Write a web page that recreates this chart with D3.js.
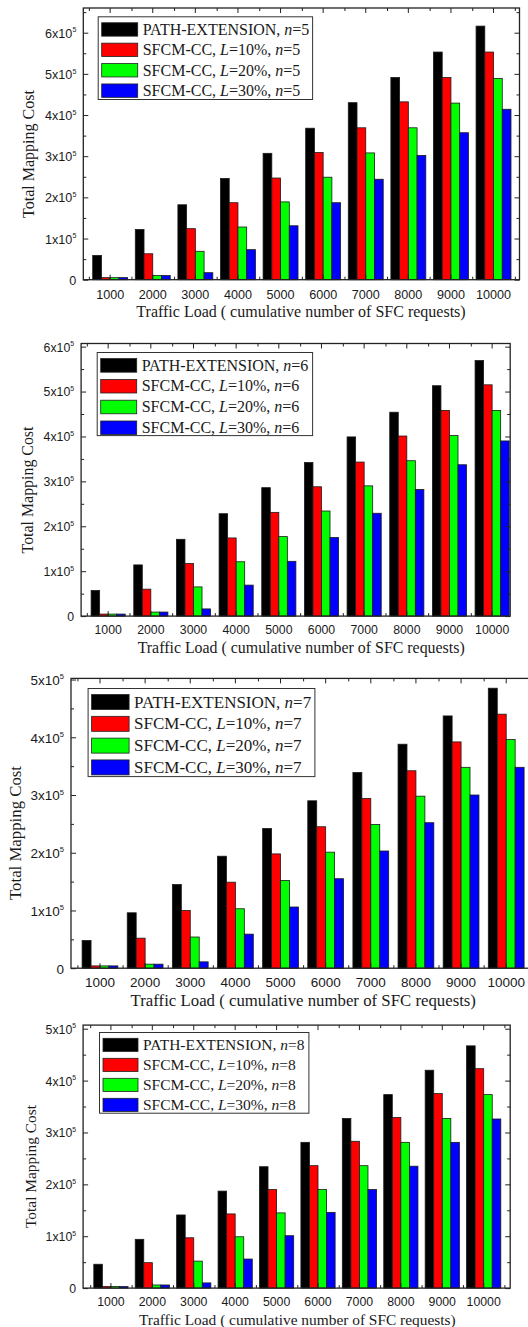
<!DOCTYPE html>
<html>
<head>
<meta charset="utf-8">
<script src="https://cdn.jsdelivr.net/npm/d3@7"></script>
<style>
  body { margin: 0; background: #fff; }
  svg { display: block; background: #fff; }
</style>
</head>
<body>
<svg id="chart" width="528" height="1327"></svg>
<script>
// Traffic load categories (x axis)
var categories = [1000, 2000, 3000, 4000, 5000, 6000, 7000, 8000, 9000, 10000];
var seriesColors = ["#000000", "#ff0000", "#00ff00", "#0000ff"];
var lossLevels = ["10%", "20%", "30%"];
var nodeCounts = [5, 6, 7, 8];

// n = 5
var pathExtN5 = [59000, 122000, 182000, 246000, 307000, 368000, 430000, 491000, 553000, 616000];
var sfcm10N5  = [5000, 63000, 124000, 187000, 247000, 309000, 369000, 432000, 491000, 553000];
var sfcm20N5  = [5000, 10000, 69000, 128000, 189000, 249000, 308000, 369000, 429000, 489000];
var sfcm30N5  = [5000, 10000, 17000, 73000, 131000, 187000, 244000, 302000, 357000, 414000];

// n = 6
var pathExtN6 = [57000, 114000, 171000, 228000, 286000, 342000, 399000, 454000, 513000, 569000];
var sfcm10N6  = [4500, 60000, 117000, 174000, 231000, 288000, 343000, 401000, 458000, 515000];
var sfcm20N6  = [4500, 9000, 65000, 121000, 177000, 234000, 290000, 346000, 402000, 458000];
var sfcm30N6  = [4500, 9000, 16000, 69000, 122000, 175000, 229000, 282000, 337000, 390000];

// n = 7
var pathExtN7 = [48000, 96000, 145000, 194000, 242000, 290000, 339000, 388000, 437000, 485000];
var sfcm10N7  = [4000, 52000, 100000, 149000, 198000, 245000, 294000, 342000, 392000, 440000];
var sfcm20N7  = [4000, 7000, 54000, 103000, 152000, 201000, 249000, 298000, 348000, 396000];
var sfcm30N7  = [4000, 7000, 11000, 59000, 106000, 155000, 203000, 252000, 300000, 348000];

// n = 8
var pathExtN8 = [46000, 94000, 141000, 187000, 234000, 281000, 327000, 373000, 420000, 467000];
var sfcm10N8  = [3000, 49000, 97000, 143000, 190000, 236000, 283000, 329000, 375000, 423000];
var sfcm20N8  = [3000, 6000, 52000, 99000, 145000, 190000, 236000, 281000, 327000, 373000];
var sfcm30N8  = [3000, 6000, 10000, 56000, 101000, 146000, 190000, 235000, 281000, 326000];

var yMajorN56 = [0, 100000, 200000, 300000, 400000, 500000, 600000];
var yMajorN78 = [0, 100000, 200000, 300000, 400000, 500000];

var panels = [
  { n: nodeCounts[0], series: [pathExtN5, sfcm10N5, sfcm20N5, sfcm30N5], yMax: 660000, yMajor: yMajorN56,
    fx0: 83.3, fx1: 519.5, fy0: 8, fy1: 279.7, g0: 92.7, g1: 511, pad: 0.18,
    tickFs: 12.6, tickY: 294.8, titleFs: 16, titleX: 301, titleY: 311.6, yTitleX: 28.6, yTitleY: 154,
    leg: { x: 98.2, y: 16.8, w: 214.4, h: 82.7, row: 20.4, sw: 36, sh: 13.4, fs: 16 } },
  { n: nodeCounts[1], series: [pathExtN6, sfcm10N6, sfcm20N6, sfcm30N6], yMax: 607000, yMajor: yMajorN56,
    fx0: 81.1, fx1: 510.2, fy0: 343.5, fy1: 616.1, g0: 91.1, g1: 509.2, pad: 0.2,
    tickFs: 12.3, tickY: 629.9, titleFs: 15.9, titleX: 301.2, titleY: 647.6, yTitleX: 27.5, yTitleY: 490,
    leg: { x: 97.2, y: 352.5, w: 215.4, h: 83.1, row: 20.8, sw: 36, sh: 13.6, fs: 16 } },
  { n: nodeCounts[2], series: [pathExtN7, sfcm10N7, sfcm20N7, sfcm30N7], yMax: 502000, yMajor: yMajorN78,
    fx0: 71, fx1: 535, fy0: 678.4, fy1: 968.2, g0: 82.1, g1: 524.1, pad: 0.207,
    tickFs: 13.5, tickY: 982.3, titleFs: 16.8, titleX: 303.3, titleY: 1000, yTitleX: 15.5, yTitleY: 833,
    leg: { x: 88.1, y: 688.5, w: 226.8, h: 88.1, row: 21.8, sw: 37.5, sh: 15, fs: 17 } },
  { n: nodeCounts[3], series: [pathExtN8, sfcm10N8, sfcm20N8, sfcm30N8], yMax: 507000, yMajor: yMajorN78,
    fx0: 83.1, fx1: 510.2, fy0: 1025.1, fy1: 1288.1, g0: 93.8, g1: 500.8, pad: 0.174,
    tickFs: 12.3, tickY: 1301.5, titleFs: 15.4, titleX: 297.3, titleY: 1320, yTitleX: 30.8, yTitleY: 1166.5,
    leg: { x: 99.5, y: 1032.5, w: 209.4, h: 80.7, row: 20, sw: 35, sh: 13.2, fs: 15.5 } }
];

var svg = d3.select("#chart");
var sansFont = "'Liberation Sans', Arial, sans-serif";
var serifFont = "'Liberation Serif', 'Times New Roman', serif";
var inkColor = "#1a1a1a";

function legendParts(row, n) {
  if (row === 0) {
    return [{ t: "PATH-EXTENSION, " }, { t: "n", i: true }, { t: "=" + n }];
  }
  return [{ t: "SFCM-CC, " }, { t: "L", i: true }, { t: "=" + lossLevels[row - 1] + ", " },
          { t: "n", i: true }, { t: "=" + n }];
}

function styleAxis(sel) {
  sel.select(".domain").remove();
  sel.selectAll(".tick line").attr("stroke", "#222").attr("stroke-width", 1);
  sel.attr("font-family", sansFont).attr("fill", null);
}

function drawPanel(p) {
  var g = svg.append("g");

  var x = d3.scaleBand().domain(categories).range([p.g0, p.g1]).paddingInner(p.pad).paddingOuter(0);
  var xs = d3.scaleBand().domain(d3.range(p.series.length)).range([0, x.bandwidth()]);
  var y = d3.scaleLinear().domain([0, p.yMax]).range([p.fy1, p.fy0]);

  // index scale through group centres, used for the minor ticks between groups
  var xc = d3.scaleLinear().domain([0, categories.length - 1])
    .range([x(categories[0]) + x.bandwidth() / 2, x(categories[categories.length - 1]) + x.bandwidth() / 2]);
  var xMinor = d3.range(-0.5, categories.length, 1).filter(function (v) {
    return xc(v) > p.fx0 + 1 && xc(v) < p.fx1 - 1;
  });

  var yMinor = p.yMajor.map(function (v) { return v + 50000; }).filter(function (v) { return v < p.yMax; });

  // bars
  p.series.forEach(function (vals, s) {
    g.append("g").selectAll("rect")
      .data(vals)
      .enter().append("rect")
      .attr("x", function (d, i) { return x(categories[i]) + xs(s); })
      .attr("y", function (d) { return y(d); })
      .attr("width", xs.bandwidth())
      .attr("height", function (d) { return y(0) - y(d); })
      .attr("fill", seriesColors[s])
      .attr("stroke", "#1a1a1a")
      .attr("stroke-width", 0.8);
  });

  // frame
  g.append("rect")
    .attr("x", p.fx0).attr("y", p.fy0)
    .attr("width", p.fx1 - p.fx0).attr("height", p.fy1 - p.fy0)
    .attr("fill", "none").attr("stroke", "#222").attr("stroke-width", 1.3);

  // bottom axis with labels
  var bottom = g.append("g")
    .attr("transform", "translate(0," + p.fy1 + ")")
    .call(d3.axisBottom(x).tickSize(-5).tickSizeOuter(0));
  styleAxis(bottom);
  bottom.selectAll("text")
    .attr("y", p.tickY - p.fy1).attr("dy", "0.35em")
    .attr("font-size", p.tickFs).attr("fill", inkColor);

  g.append("g").attr("transform", "translate(0," + p.fy1 + ")")
    .call(d3.axisBottom(xc).tickValues(xMinor).tickSize(-3).tickSizeOuter(0).tickFormat(""))
    .call(styleAxis);

  // top axis
  g.append("g").attr("transform", "translate(0," + p.fy0 + ")")
    .call(d3.axisTop(x).tickSize(-5).tickSizeOuter(0).tickFormat(""))
    .call(styleAxis);
  g.append("g").attr("transform", "translate(0," + p.fy0 + ")")
    .call(d3.axisTop(xc).tickValues(xMinor).tickSize(-3).tickSizeOuter(0).tickFormat(""))
    .call(styleAxis);

  // left axis with x10^5 labels
  var left = g.append("g").attr("transform", "translate(" + p.fx0 + ",0)")
    .call(d3.axisLeft(y).tickValues(p.yMajor).tickSize(-5).tickSizeOuter(0).tickPadding(7));
  styleAxis(left);
  left.selectAll("text")
    .attr("font-size", p.tickFs).attr("fill", inkColor).attr("dy", "0.36em")
    .each(function (v) {
      var t = d3.select(this).text(null);
      if (v === 0) { t.text("0"); return; }
      t.append("tspan").text((v / 100000) + "x10");
      t.append("tspan").attr("font-size", p.tickFs * 0.56).attr("dy", -p.tickFs * 0.42).text("5");
    });
  g.append("g").attr("transform", "translate(" + p.fx0 + ",0)")
    .call(d3.axisLeft(y).tickValues(yMinor).tickSize(-3).tickSizeOuter(0).tickFormat(""))
    .call(styleAxis);

  // right axis
  g.append("g").attr("transform", "translate(" + p.fx1 + ",0)")
    .call(d3.axisRight(y).tickValues(p.yMajor).tickSize(-5).tickSizeOuter(0).tickFormat(""))
    .call(styleAxis);
  g.append("g").attr("transform", "translate(" + p.fx1 + ",0)")
    .call(d3.axisRight(y).tickValues(yMinor).tickSize(-3).tickSizeOuter(0).tickFormat(""))
    .call(styleAxis);

  // axis titles
  g.append("text")
    .attr("x", p.titleX).attr("y", p.titleY).attr("dy", "0.35em")
    .attr("text-anchor", "middle")
    .attr("font-family", serifFont).attr("font-size", p.titleFs).attr("fill", inkColor)
    .text("Traffic Load ( cumulative number of SFC requests)");

  g.append("text")
    .attr("transform", "translate(" + p.yTitleX + "," + p.yTitleY + ") rotate(-90)")
    .attr("dy", "0.35em")
    .attr("text-anchor", "middle")
    .attr("font-family", serifFont).attr("font-size", p.titleFs).attr("fill", inkColor)
    .text("Total Mapping Cost");

  // legend
  var L = p.leg;
  var lg = g.append("g");
  lg.append("rect")
    .attr("x", L.x).attr("y", L.y).attr("width", L.w).attr("height", L.h)
    .attr("fill", "#fff").attr("stroke", "#333").attr("stroke-width", 1);

  seriesColors.forEach(function (c, r) {
    var cy = L.y + L.row * 0.62 + r * L.row;
    lg.append("rect")
      .attr("x", L.x + 3.5).attr("y", cy - L.sh / 2)
      .attr("width", L.sw).attr("height", L.sh)
      .attr("fill", c).attr("stroke", "#222").attr("stroke-width", 0.8);
    var t = lg.append("text")
      .attr("x", L.x + 3.5 + L.sw + 5).attr("y", cy + L.fs * 0.33)
      .attr("font-family", serifFont).attr("font-size", L.fs).attr("fill", inkColor);
    legendParts(r, p.n).forEach(function (part) {
      t.append("tspan").attr("font-style", part.i ? "italic" : null).text(part.t);
    });
  });
}

panels.forEach(drawPanel);
</script>
</body>
</html>
